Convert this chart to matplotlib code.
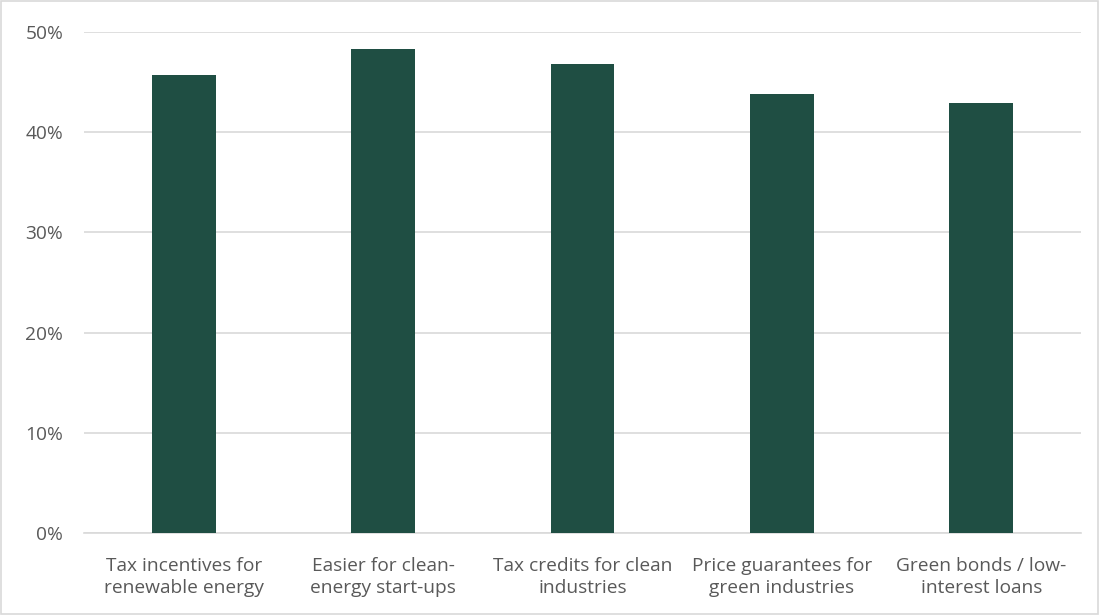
import matplotlib.pyplot as plt
from matplotlib.patches import Rectangle
from matplotlib.ticker import PercentFormatter

categories = [
    "Tax incentives for\nrenewable energy",
    "Easier for clean-\nenergy start-ups",
    "Tax credits for clean\nindustries",
    "Price guarantees for\ngreen industries",
    "Green bonds / low-\ninterest loans",
]
values = [45.7, 48.3, 46.8, 43.8, 42.9]
yticks = [0, 10, 20, 30, 40, 50]

plt.rcParams['font.family'] = ['Open Sans', 'DejaVu Sans']
text_color = '#595959'
grid_color = '#D9D9D9'
bar_color = '#1F4E43'

fig = plt.figure(figsize=(10.99, 6.15), dpi=100)
ax = fig.add_axes([84 / 1099, 1 - 533 / 615, 997 / 1099, 501 / 615])

x = range(len(categories))
ax.bar(x, values, width=0.32, color=bar_color, zorder=3)

ax.set_xlim(-0.5, len(categories) - 0.5)
ax.set_ylim(0, 50)
ax.set_yticks(yticks)
ax.yaxis.set_major_formatter(PercentFormatter(decimals=0))
ax.set_xticks(list(x))
ax.set_xticklabels(categories, fontsize=13.8, color=text_color, linespacing=1.3)
ax.tick_params(axis='y', labelsize=13.8, labelcolor=text_color, length=0, pad=15)
ax.tick_params(axis='x', length=0, pad=17)

ax.grid(axis='y', color=grid_color, linewidth=1.2, zorder=0)
for side in ['top', 'right', 'left']:
    ax.spines[side].set_visible(False)
ax.spines['bottom'].set_color(grid_color)
ax.spines['bottom'].set_linewidth(1.2)

# thin frame around the whole chart area
fig.patches.append(Rectangle((0.001, 0.002), 0.998, 0.996, transform=fig.transFigure,
                             fill=False, edgecolor='#D9D9D9', linewidth=1.2))

fig.savefig('out.png', dpi=100)
